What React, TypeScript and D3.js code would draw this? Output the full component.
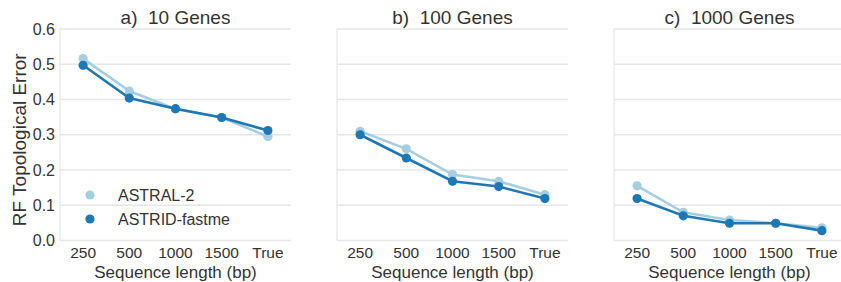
import * as d3 from "d3";

// x categories
const seqLengths = ["250", "500", "1000", "1500", "True"];
const panelTitles = ["a)  10 Genes", "b)  100 Genes", "c)  1000 Genes"];
const yTicks = [0.0, 0.1, 0.2, 0.3, 0.4, 0.5, 0.6];

// RF error per panel (10, 100, 1000 genes)
const astral10 = [0.516, 0.424, 0.373, 0.349, 0.295];
const astrid10 = [0.497, 0.404, 0.374, 0.349, 0.312];
const astral100 = [0.31, 0.26, 0.187, 0.168, 0.13];
const astrid100 = [0.3, 0.234, 0.168, 0.153, 0.119];
const astral1000 = [0.155, 0.08, 0.058, 0.049, 0.036];
const astrid1000 = [0.119, 0.07, 0.049, 0.049, 0.028];

const seriesNames = ["ASTRAL-2", "ASTRID-fastme"];
const colors = ["#a6cee3", "#1f78b4"];

const W = 841;
const H = 282;
const panelLefts = [60, 337, 614];
const panelW = 231;
const top = 29;
const bottom = 240.5;
const font = "'Liberation Sans', Arial, sans-serif";
const textColor = "#333";

export default function App() {
  const panels = [
    [astral10, astrid10],
    [astral100, astrid100],
    [astral1000, astrid1000],
  ];
  const y = d3.scaleLinear().domain([0, 0.6]).range([bottom, top]);

  return (
    <svg
      width={W}
      height={H}
      style={{ position: "absolute", left: 0, top: 0, background: "#fff" }}
      fontFamily={font}
    >
      {panels.map((series, p) => {
        const left = panelLefts[p];
        const x = d3
          .scalePoint()
          .domain(seqLengths)
          .range([left, left + panelW])
          .padding(0.5);
        const line = d3
          .line<number>()
          .x((_, i) => x(seqLengths[i])!)
          .y((d) => y(d));
        return (
          <g key={p}>
            {yTicks.map((t) => (
              <line
                key={t}
                x1={left}
                x2={left + panelW}
                y1={y(t)}
                y2={y(t)}
                stroke="#e6e6e6"
                strokeWidth={1.3}
              />
            ))}
            <line
              x1={left}
              x2={left}
              y1={top}
              y2={bottom}
              stroke="#e6e6e6"
              strokeWidth={1.3}
            />
            {seqLengths.map((s) => (
              <text
                key={s}
                x={x(s)}
                y={258}
                fontSize={15.5}
                textAnchor="middle"
                fill={textColor}
              >
                {s}
              </text>
            ))}
            <text
              x={left + panelW / 2}
              y={277.5}
              fontSize={17}
              textAnchor="middle"
              fill={textColor}
            >
              Sequence length (bp)
            </text>
            <text
              x={left + panelW / 2}
              y={24}
              fontSize={19}
              textAnchor="middle"
              fill={textColor}
              style={{ whiteSpace: "pre" }}
            >
              {panelTitles[p]}
            </text>
            {series.map((vals, si) => (
              <g key={si}>
                <path
                  d={line(vals)!}
                  fill="none"
                  stroke={colors[si]}
                  strokeWidth={2.6}
                />
                {vals.map((v, i) => (
                  <circle
                    key={i}
                    cx={x(seqLengths[i])}
                    cy={y(v)}
                    r={4.6}
                    fill={colors[si]}
                  />
                ))}
              </g>
            ))}
          </g>
        );
      })}
      {yTicks.map((t) => (
        <text
          key={t}
          x={55}
          y={y(t) + 5.5}
          fontSize={16}
          textAnchor="end"
          fill={textColor}
        >
          {t.toFixed(1)}
        </text>
      ))}
      <text
        transform={`translate(26,${(top + bottom) / 2 + 5}) rotate(-90)`}
        fontSize={19}
        textAnchor="middle"
        fill={textColor}
      >
        RF Topological Error
      </text>
      {seriesNames.map((n, i) => (
        <g key={n}>
          <circle cx={90} cy={195 + i * 24} r={4.6} fill={colors[i]} />
          <text x={118} y={200.5 + i * 24} fontSize={16} fill={textColor}>
            {n}
          </text>
        </g>
      ))}
    </svg>
  );
}
